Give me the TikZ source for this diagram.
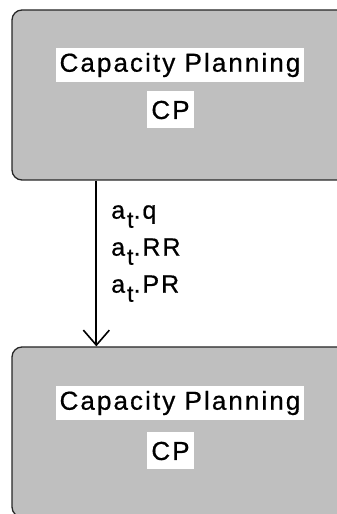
\documentclass[tikz,border=0pt]{standalone}
\usepackage{fontspec}
\setmainfont{Liberation Sans}[LetterSpace=8, FakeBold=0.6]
\usetikzlibrary{arrows.meta, positioning}

\tikzset{
    module/.style = {draw=black!85, line width=1.3pt, fill=black!25,
                     rounded corners=10pt, minimum width=336pt, minimum height=170pt},
    caption/.style = {fill=white, inner xsep=4pt, inner ysep=5pt,
                      font=\fontsize{26}{26}\selectfont},
    abbr/.style = {caption, minimum width=47pt, minimum height=37pt},
    flow/.style = {line width=1.8pt, -{Straight Barb[length=15pt, width=26pt, line width=1.6pt]}}
}
\newcommand{\attr}[1]{a\kern2pt\raisebox{-9pt}{\fontsize{23}{23}\selectfont t}.#1}

\begin{document}
\begin{tikzpicture}[x=1pt, y=1pt]
    \useasboundingbox (0,0) rectangle (337,514);

    % the two planning modules
    \node[module] (cp1) at (180,419) {};
    \node[module] (cp2) at (180,82) {};

    \node[caption] (cp1name) at (180,449) {Capacity Planning};
    \node[abbr] (cp1abbr) at (170.5,404) {CP};
    \node[caption] (cp2name) at (180,111) {Capacity Planning};
    \node[abbr] (cp2abbr) at (170.5,63) {CP};

    % data handed from one module to the next
    \draw[flow] ([xshift=85pt]cp1.south west) -- ([xshift=85pt]cp2.north west)
        node[pos=0.44, right=14pt, align=left, inner sep=0pt,
             font=\fontsize{25}{37}\selectfont] (data) {\attr{q}\\ \attr{RR}\\ \attr{PR}};
\end{tikzpicture}
\end{document}
